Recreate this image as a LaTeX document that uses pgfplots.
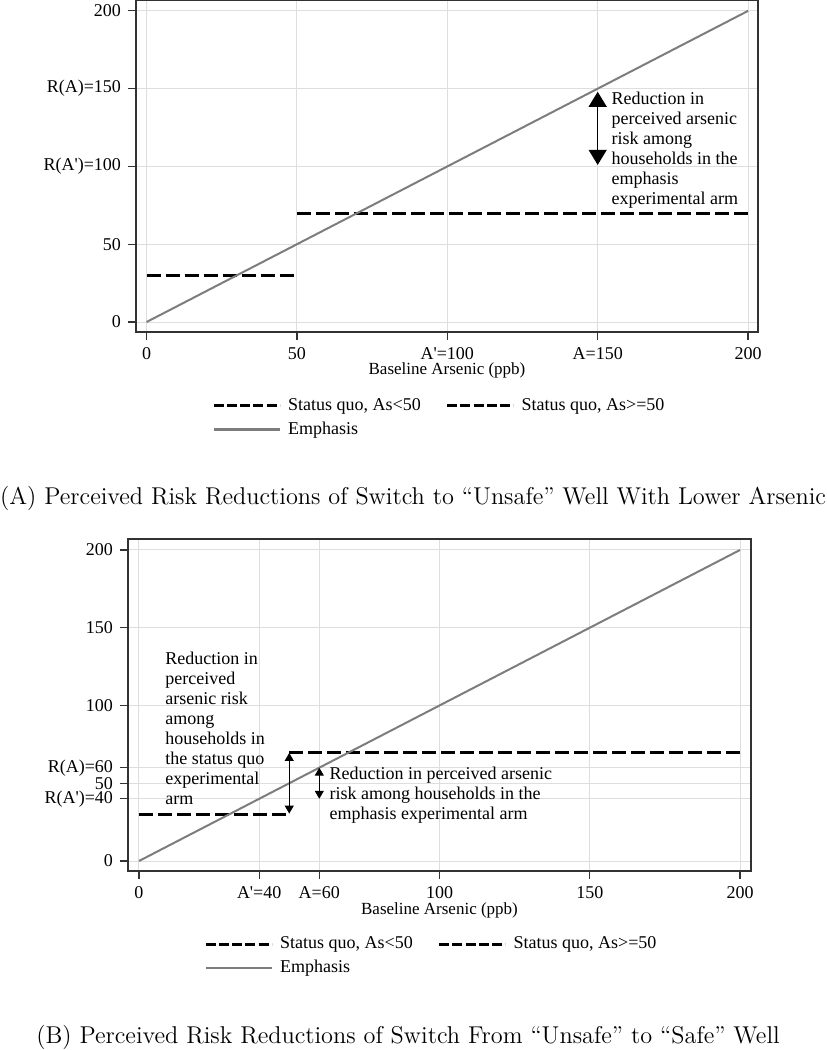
\documentclass[border=0pt]{standalone}
\usepackage{fontspec}
\usepackage{pgfplots}
\pgfplotsset{compat=1.18}
\usetikzlibrary{arrows.meta}
\newfontfamily\geo{Liberation Serif}

\definecolor{gridgray}{RGB}{222,222,222}
\definecolor{emph}{RGB}{125,125,125}
\definecolor{frame}{RGB}{50,50,50}

% step functions and diagonal
\pgfplotstableread{
x y
0 30
50 30
}\sqlow
\pgfplotstableread{
x y
50 70
200 70
}\sqhigh
\pgfplotstableread{
x y
0 0
200 200
}\emphline

\pgfplotsset{
  panel/.style={
    scale only axis, width=311pt, height=166pt,
    axis line style={frame, line width=0.6pt},
    grid=major, major grid style={gridgray, line width=0.5pt},
    tick align=outside, xtick pos=bottom, ytick pos=left,
    major tick length=4pt, tick style={frame, line width=0.6pt},
    /pgf/number format/assume math mode=true,
    ticklabel style={font=\geo\fontsize{9}{10}\selectfont},
    xlabel={Baseline Arsenic (ppb)},
    label style={font=\geo\fontsize{8.5}{10}\selectfont},
    legend columns=2,
    legend cell align=left,
    legend style={draw=none, fill=none, inner sep=0pt, row sep=1.2pt,
      font=\geo\fontsize{9}{10}\selectfont,
      nodes={inner sep=1.5pt},
      /tikz/every odd column/.append style={column sep=2pt},
      /tikz/every even column/.append style={column sep=11pt}},
    legend image code/.code={\draw[##1] (0pt,0pt) -- (33pt,0pt);},
  },
  sq/.style={black, line width=1.4pt, dash pattern=on 7pt off 2.5pt,
    legend image code/.code={\draw[black, line width=1.4pt, dash pattern=on 5pt off 1.6pt] (0pt,0pt) -- (33pt,0pt);}},
  em/.style={emph, line width=1pt,
    legend image code/.code={\draw[emph, line width=1.3pt] (0pt,0pt) -- (33pt,0pt);}},
}

\begin{document}
\begin{tikzpicture}
\useasboundingbox (0,0) rectangle (413pt,525pt);

% ---- panel A
\begin{axis}[panel, at={(68pt,359pt)}, anchor=south west,
  xmin=-3.5, xmax=203.3, ymin=-6.4, ymax=207,
  xtick={0,50,100,150,200}, xticklabels={0,50,A'=100,A=150,200},
  ytick={0,50,100,150,200}, yticklabels={0,50,R(A')=100,R(A)=150,200},
  xlabel style={at={(axis description cs:0.5,-0.117)}, anchor=center},
  legend style={at={(axis description cs:0,-0.189)}, anchor=north west, xshift=38pt},
]
\addplot[sq] table {\sqlow};
\addlegendentry{Status quo, As<50}
\addplot[sq] table {\sqhigh};
\addlegendentry{Status quo, As>=50}
\addplot[em] table {\emphline};
\addlegendentry{Emphasis}
\draw[line width=0.6pt, {Triangle[width=9pt,length=7.5pt]}-{Triangle[width=9pt,length=7.5pt]}]
  (axis cs:150,148) -- (axis cs:150,101);
\node[anchor=west, align=left, inner sep=0pt, font=\geo\fontsize{9}{10}\selectfont]
  at (axis cs:154.5,110.6) {Reduction in\\perceived arsenic\\risk among\\households in the\\emphasis\\experimental arm};
\end{axis}

% ---- panel B
\begin{axis}[panel, at={(64pt,89.5pt)}, anchor=south west, width=311.5pt,
  xmin=-3.66, xmax=203.66, ymin=-6.43, ymax=207.07,
  xtick={0,40,60,100,150,200}, xticklabels={0,A'=40,A=60,100,150,200},
  ytick={0,40,50,60,100,150,200}, yticklabels={0,R(A')=40,50,R(A)=60,100,150,200},
  xlabel style={at={(axis description cs:0.5,-0.1175)}, anchor=center},
  legend style={at={(axis description cs:0,-0.188)}, anchor=north west, xshift=38pt},
]
\addplot[sq] table {\sqlow};
\addlegendentry{Status quo, As<50}
\addplot[sq] table {\sqhigh};
\addlegendentry{Status quo, As>=50}
\addplot[em] table {\emphline};
\addlegendentry{Emphasis}
\draw[line width=0.6pt, {Triangle[width=4.5pt,length=4pt]}-{Triangle[width=4.5pt,length=4pt]}]
  (axis cs:50,30.5) -- (axis cs:50,69.5);
\draw[line width=0.6pt, {Triangle[width=4.5pt,length=4pt]}-{Triangle[width=4.5pt,length=4pt]}]
  (axis cs:60,60) -- (axis cs:60,40);
\node[anchor=west, align=left, inner sep=0pt, font=\geo\fontsize{9}{10}\selectfont]
  at (axis cs:8.65,85.2) {Reduction in\\perceived\\arsenic risk\\among\\households in\\the status quo\\experimental\\arm};
\node[anchor=west, align=left, inner sep=0pt, font=\geo\fontsize{9}{10}\selectfont]
  at (axis cs:63.3,42.2) {Reduction in perceived arsenic\\risk among households in the\\emphasis experimental arm};
\end{axis}

% ---- captions
\node[font=\fontsize{12.15}{14}\selectfont] at (206.5pt,276pt)
  {(A) Perceived Risk Reductions of Switch to “Unsafe” Well With Lower Arsenic};
\node[font=\fontsize{12.15}{14}\selectfont] at (204pt,6.5pt)
  {(B) Perceived Risk Reductions of Switch From “Unsafe” to “Safe” Well};
\end{tikzpicture}
\end{document}
